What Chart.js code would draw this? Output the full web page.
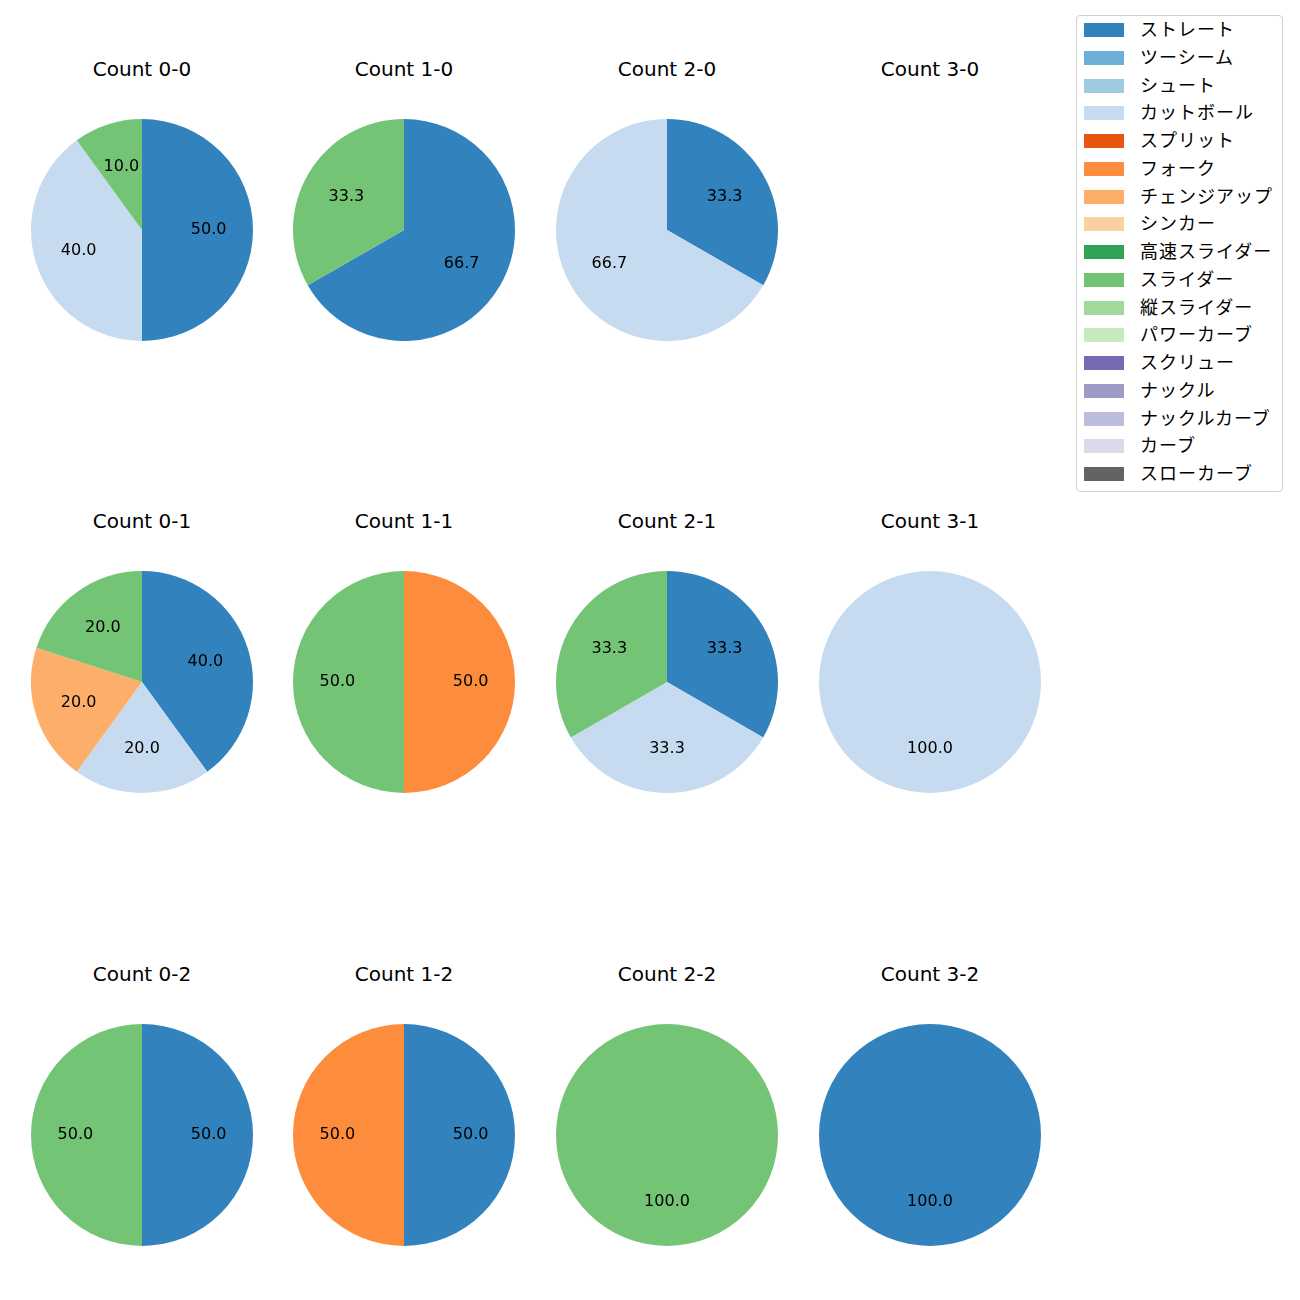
<!DOCTYPE html>
<html>
<head>
<meta charset="utf-8">
<script src="https://cdn.jsdelivr.net/npm/chart.js@4/dist/chart.umd.min.js"></script>
<style>
  body { margin: 0; background: #fff; }
  #page { position: relative; width: 1300px; height: 1300px; font-family: "DejaVu Sans", sans-serif; }
  .ttl { position: absolute; width: 200px; text-align: center; font-size: 20px; line-height: 24px; color: #000; }
  canvas { position: absolute; }
  #legend { position: absolute; left: 1076px; top: 15px; width: 205px; height: 475px; border: 1px solid #d0d0d0; border-radius: 4px; box-sizing: content-box; font-family: "Noto Sans CJK JP", sans-serif; }
  .row { position: absolute; left: 7px; height: 20px; font-size: 18px; line-height: 20px; letter-spacing: 1px; white-space: nowrap; }
  .sw { position: absolute; left: 0; top: 4px; width: 40px; height: 14px; }
  .lt { position: absolute; left: 56px; top: -1px; }
</style>
</head>
<body>
<div id="page"><div id="legend"></div></div>
<script>
const pitchTypes = ["ストレート","ツーシーム","シュート","カットボール","スプリット","フォーク","チェンジアップ","シンカー","高速スライダー","スライダー","縦スライダー","パワーカーブ","スクリュー","ナックル","ナックルカーブ","カーブ","スローカーブ"];
const pitchColors = ["#3182bd","#6baed6","#9ecae1","#c6dbef","#e6550d","#fd8d3c","#fdae6b","#fdd0a2","#31a354","#74c476","#a1d99b","#c7e9c0","#756bb1","#9e9ac8","#bcbddc","#dadaeb","#636363"];

// share (%) per pitch type, same order as pitchTypes
const count00 = [50,0,0,40,0,0,0,0,0,10,0,0,0,0,0,0,0];
const count10 = [66.7,0,0,0,0,0,0,0,0,33.3,0,0,0,0,0,0,0];
const count20 = [33.3,0,0,66.7,0,0,0,0,0,0,0,0,0,0,0,0,0];
const count30 = [0,0,0,0,0,0,0,0,0,0,0,0,0,0,0,0,0];
const count01 = [40,0,0,20,0,0,20,0,0,20,0,0,0,0,0,0,0];
const count11 = [0,0,0,0,0,50,0,0,0,50,0,0,0,0,0,0,0];
const count21 = [33.3,0,0,33.3,0,0,0,0,0,33.3,0,0,0,0,0,0,0];
const count31 = [0,0,0,100,0,0,0,0,0,0,0,0,0,0,0,0,0];
const count02 = [50,0,0,0,0,0,0,0,0,50,0,0,0,0,0,0,0];
const count12 = [50,0,0,0,0,50,0,0,0,0,0,0,0,0,0,0,0];
const count22 = [0,0,0,0,0,0,0,0,0,100,0,0,0,0,0,0,0];
const count32 = [100,0,0,0,0,0,0,0,0,0,0,0,0,0,0,0,0];

const panels = [
  ["Count 0-0", count00], ["Count 1-0", count10], ["Count 2-0", count20], ["Count 3-0", count30],
  ["Count 0-1", count01], ["Count 1-1", count11], ["Count 2-1", count21], ["Count 3-1", count31],
  ["Count 0-2", count02], ["Count 1-2", count12], ["Count 2-2", count22], ["Count 3-2", count32]
];

const colX = [142, 404, 667, 930];
const rowY = [230, 682, 1135];
const R = 111;

const pctLabels = {
  id: 'pctLabels',
  afterDatasetsDraw(chart) {
    const ctx = chart.ctx;
    const ds = chart.data.datasets[0];
    chart.getDatasetMeta(0).data.forEach((arc, i) => {
      const v = ds.data[i];
      if (!v) return;
      const p = arc.getProps(['x','y','startAngle','endAngle','outerRadius'], true);
      const a = (p.startAngle + p.endAngle) / 2;
      ctx.save();
      ctx.font = '16px "DejaVu Sans", sans-serif';
      ctx.fillStyle = '#000';
      ctx.textAlign = 'center';
      ctx.textBaseline = 'middle';
      ctx.fillText(v.toFixed(1), p.x + Math.cos(a) * p.outerRadius * 0.6, p.y + Math.sin(a) * p.outerRadius * 0.6);
      ctx.restore();
    });
  }
};

const page = document.getElementById('page');
panels.forEach(([title, values], k) => {
  const cx = colX[k % 4], cy = rowY[Math.floor(k / 4)];
  const t = document.createElement('div');
  t.className = 'ttl';
  t.textContent = title;
  t.style.left = (cx - 100) + 'px';
  t.style.top = (cy - 173) + 'px';
  page.appendChild(t);

  const cv = document.createElement('canvas');
  cv.width = 2 * R; cv.height = 2 * R;
  cv.style.left = (cx - R) + 'px';
  cv.style.top = (cy - R) + 'px';
  page.appendChild(cv);

  new Chart(cv.getContext('2d'), {
    type: 'pie',
    data: {
      labels: pitchTypes,
      datasets: [{ data: values, backgroundColor: pitchColors, borderWidth: 0, hoverOffset: 0 }]
    },
    options: {
      responsive: false,
      animation: false,
      events: [],
      layout: { padding: 0 },
      plugins: { legend: { display: false }, tooltip: { enabled: false } }
    },
    plugins: [pctLabels]
  });
});

const legend = document.getElementById('legend');
pitchTypes.forEach((name, i) => {
  const row = document.createElement('div');
  row.className = 'row';
  row.style.top = (3 + i * 27.75) + 'px';
  row.innerHTML = '<span class="sw" style="background:' + pitchColors[i] + '"></span><span class="lt">' + name + '</span>';
  legend.appendChild(row);
});
</script>
</body>
</html>
